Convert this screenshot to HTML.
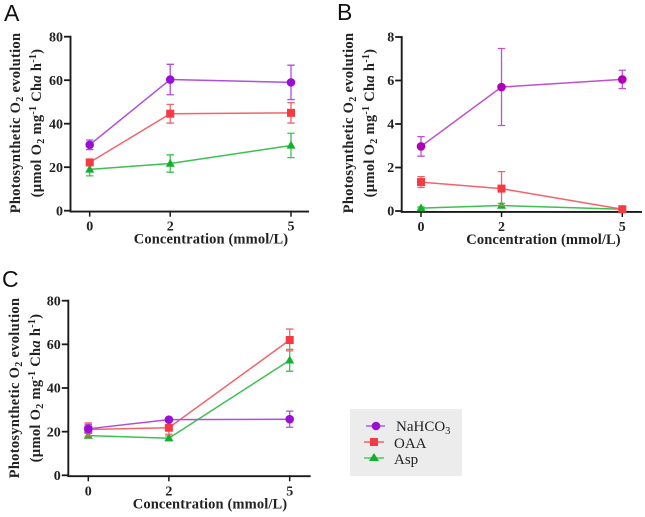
<!DOCTYPE html>
<html lang="en">
<head>
<meta charset="utf-8">
<title>Photosynthetic O2 evolution</title>
<style>
html,body{margin:0;padding:0;background:#fff;width:645px;height:517px;overflow:hidden}
svg{display:block}
text{font-family:"Liberation Serif",serif;fill:#222}
.tick{font-size:14px;font-weight:700}
.title{font-size:14.5px;font-weight:700;letter-spacing:.3px}
.xtitle{letter-spacing:.12px}
.panel{font-family:"Liberation Sans",sans-serif;font-size:23px;fill:#111}
.leg{font-size:15px}
</style>
</head>
<body>
<svg id="fig" xmlns="http://www.w3.org/2000/svg" width="645" height="517" viewBox="0 0 645 517">
  <g>
    <rect x="350" y="409" width="112" height="67" fill="#ececec"/>
    <g>
      <line x1="366" x2="385" y1="426" y2="426" stroke="#b060d8" stroke-width="1.6"/>
      <circle cx="376" cy="426" r="4.3" fill="#9a0fd4"/>
      <text class="leg" x="396" y="431">NaHCO<tspan dy="3" font-size="10.5">3</tspan></text>
    </g>
    <g>
      <line x1="364" x2="384" y1="442" y2="442" stroke="#f06068" stroke-width="1.6"/>
      <rect x="370" y="438" width="8" height="8" fill="#f43a42"/>
      <text class="leg" x="394" y="448">OAA</text>
    </g>
    <g>
      <line x1="364" x2="384" y1="458" y2="458" stroke="#50c860" stroke-width="1.6"/>
      <polygon points="374,453 379,461 369,461" fill="#12b02c"/>
      <text class="leg" x="394" y="464">Asp</text>
    </g>
  </g>
</svg>
<script>
const categories = [0, 2, 5];
const ticksAC = [0, 20, 40, 60, 80];
const ticksB = [0, 2, 4, 6, 8];

const nahco3A = [30.3, 60.3, 59];
const nahco3ErrA = [2.2, 7, 7.9];
const oaaA = [22.2, 44.6, 45];
const oaaErrA = [1, 4.3, 4.7];
const aspA = [19, 21.7, 30];
const aspErrA = [3, 4, 5.6];

const nahco3B = [2.97, 5.7, 6.05];
const nahco3ErrB = [0.45, 1.77, 0.42];
const oaaB = [1.33, 1.03, 0.08];
const oaaErrB = [0.25, 0.78, 0.1];
const aspB = [0.13, 0.25, 0.08];
const aspErrB = [0.05, 0.1, 0.03];

const nahco3C = [21.3, 25.5, 25.7];
const nahco3ErrC = [2, 0.8, 3.7];
const oaaC = [21, 21.8, 62];
const oaaErrC = [3, 3, 5];
const aspC = [18.2, 17, 52.7];
const aspErrC = [1, 1, 5];

const NS = 'http://www.w3.org/2000/svg';
const fig = document.getElementById('fig');

function make(parent, tag, attrs) {
  const el = document.createElementNS(NS, tag);
  for (const k in attrs) el.setAttribute(k, attrs[k]);
  parent.appendChild(el);
  return el;
}

function drawSeries(g, name, vals, errs, sx, sy, lineColor, markColor, shape) {
  const s = make(g, 'g', {});
  
  
  const pts = categories.map(function (c, i) { return sx(c) + ',' + sy(vals[i]); }).join(' ');
  const line = make(s, 'polyline', { points: pts, fill: 'none', stroke: lineColor, 'stroke-width': 1.5 });
  
  
  categories.forEach(function (c, i) {
    const x = sx(c), y = sy(vals[i]), top = sy(vals[i] + errs[i]), bot = sy(Math.max(vals[i] - errs[i], 0));
    const err = make(s, 'path', {
      d: 'M' + x + ' ' + top + 'V' + bot + 'M' + (x - 3.7) + ' ' + top + 'H' + (x + 3.7) + 'M' + (x - 3.7) + ' ' + bot + 'H' + (x + 3.7),
      fill: 'none', stroke: lineColor, 'stroke-width': 1.3
    });
    
    
    let m;
    if (shape === 'circle') {
      m = make(s, 'circle', { cx: x, cy: y, r: 4.3, fill: markColor });
    } else if (shape === 'square') {
      m = make(s, 'rect', { x: x - 4, y: y - 4, width: 8, height: 8, fill: markColor });
    } else {
      m = make(s, 'polygon', { points: x + ',' + (y - 4.8) + ' ' + (x + 4.5) + ',' + (y + 3.2) + ' ' + (x - 4.5) + ',' + (y + 3.2), fill: markColor });
    }
    
    
  });
}

function drawPanel(cfg) {
  const g = make(fig, 'g', {});
  
  

  const sy = function (v) { return cfg.y0 - (v / cfg.yMax) * (cfg.y0 - cfg.y1); };
  const sx = function (v) { return cfg.x0 + v * cfg.dx; };

  const letter = make(g, 'text', { class: 'panel', x: cfg.lx, y: cfg.ly });
  
  
  letter.textContent = cfg.id;

  const axes = make(g, 'path', {
    d: 'M' + cfg.ax + ' ' + (cfg.y1 - 0.9) + 'V' + (cfg.y0 + 0.9) + 'H' + cfg.xEnd,
    fill: 'none', stroke: '#1a1a1a', 'stroke-width': 1.9
  });
  
  

  cfg.ticks.forEach(function (t) {
    const tk = make(g, 'line', { x1: cfg.ax - 6.5, x2: cfg.ax, y1: sy(t), y2: sy(t), stroke: '#1a1a1a', 'stroke-width': 1.8 });
    
    
    const lb = make(g, 'text', { class: 'tick', x: cfg.ax - 7.5, y: sy(t) + 4.6, 'text-anchor': 'end' });
    
    
    lb.textContent = t;
  });
  categories.forEach(function (c) {
    const tk = make(g, 'line', { x1: sx(c), x2: sx(c), y1: cfg.y0, y2: cfg.y0 + 6, stroke: '#1a1a1a', 'stroke-width': 1.5 });
    
    
    const lb = make(g, 'text', { class: 'tick', x: sx(c), y: cfg.y0 + 20, 'text-anchor': 'middle' });
    
    
    lb.textContent = c;
  });

  const xt = make(g, 'text', { class: 'title xtitle', x: cfg.xtx, y: cfg.y0 + 33, 'text-anchor': 'middle' });
  
  
  xt.textContent = 'Concentration (mmol/L)';

  const yt = make(g, 'text', { class: 'title', transform: 'translate(' + cfg.ytx + ',' + cfg.yty + ') rotate(-90)', 'text-anchor': 'middle' });
  
  
  yt.innerHTML = '<tspan x="0" y="0">Photosynthetic O<tspan dy="3" font-size="10">2</tspan><tspan dy="-3"> evolution</tspan></tspan>' +
    '<tspan x="0" y="21">(\u00b5mol O<tspan dy="3" font-size="10">2</tspan><tspan dy="-3"> mg</tspan><tspan dy="-5" font-size="10">-1</tspan><tspan dy="5"> Ch</tspan><tspan font-style="italic">a</tspan> h<tspan dy="-5" font-size="10">-1</tspan><tspan dy="5">)</tspan></tspan>';

  drawSeries(g, 'asp', cfg.asp, cfg.aspErr, sx, sy, '#3cc052', '#12b02c', 'triangle');
  drawSeries(g, 'oaa', cfg.oaa, cfg.oaaErr, sx, sy, '#f2646c', '#f43a42', 'square');
  drawSeries(g, 'nahco3', cfg.nahco3, cfg.nahco3Err, sx, sy, cfg.purpleLine, cfg.purple, 'circle');
}

drawPanel({
  id: 'A', lx: 4, ly: 21, ax: 70.5, xEnd: 309, x0: 89.7, dx: 40.26, y0: 210.7, y1: 36.7, yMax: 80,
  ticks: ticksAC, xtx: 211, ytx: 20, yty: 123,
  nahco3: nahco3A, nahco3Err: nahco3ErrA, oaa: oaaA, oaaErr: oaaErrA, asp: aspA, aspErr: aspErrA,
  purple: '#9a0fd4', purpleLine: '#ae50dc'
});
drawPanel({
  id: 'B', lx: 337, ly: 20, ax: 401.7, xEnd: 642, x0: 421, dx: 40.26, y0: 211, y1: 37, yMax: 8,
  ticks: ticksB, xtx: 543.5, ytx: 353, yty: 123,
  nahco3: nahco3B, nahco3Err: nahco3ErrB, oaa: oaaB, oaaErr: oaaErrB, asp: aspB, aspErr: aspErrB,
  purple: '#ae00b8', purpleLine: '#c050cc'
});
drawPanel({
  id: 'C', lx: 2, ly: 287, ax: 68.3, xEnd: 310.7, x0: 88.3, dx: 40.28, y0: 475.3, y1: 300.7, yMax: 80,
  ticks: ticksAC, xtx: 210, ytx: 19, yty: 388,
  nahco3: nahco3C, nahco3Err: nahco3ErrC, oaa: oaaC, oaaErr: oaaErrC, asp: aspC, aspErr: aspErrC,
  purple: '#9a0fd4', purpleLine: '#ae50dc'
});
</script>
</body>
</html>
